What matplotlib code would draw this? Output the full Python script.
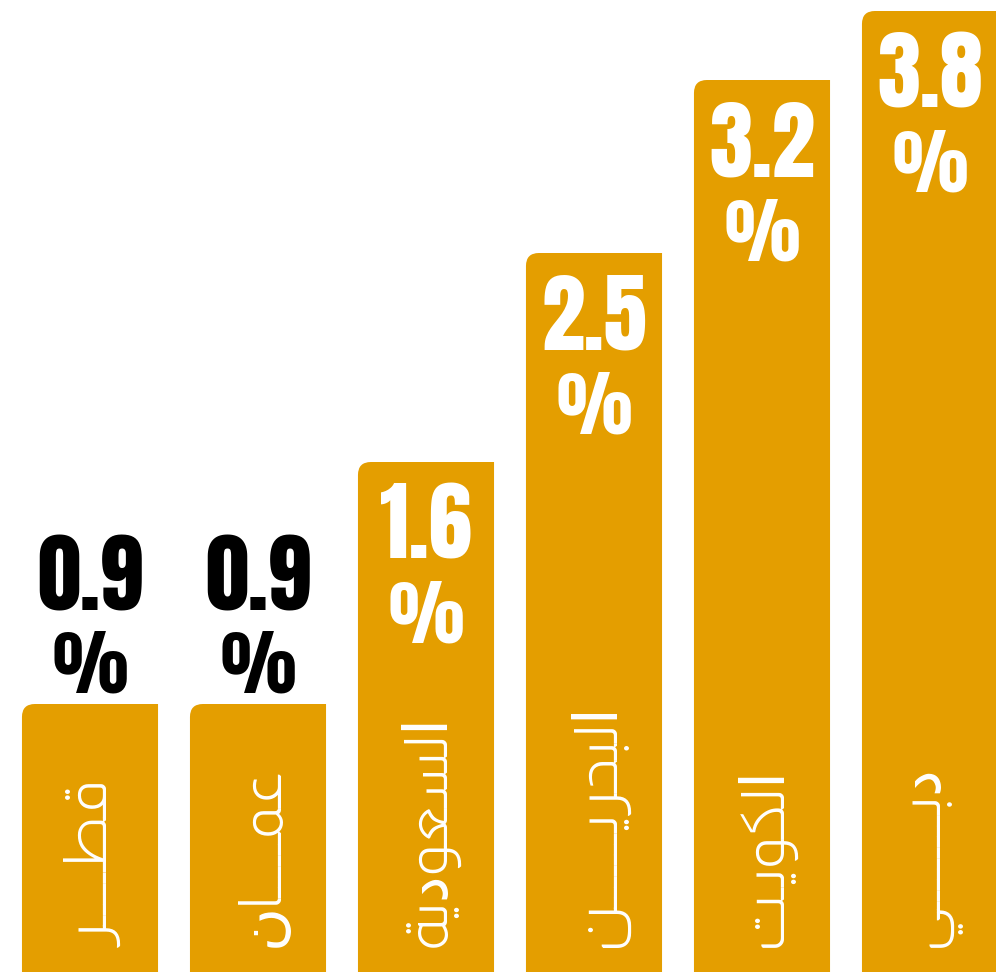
import matplotlib
matplotlib.use("Agg")
import matplotlib.pyplot as plt
from matplotlib.path import Path
from matplotlib.patches import PathPatch
from matplotlib.textpath import TextPath
from matplotlib.font_manager import FontProperties

# ---- data ----
countries = ["قطـــــر", "عمـــــان", "السعودية", "البحريـــــــن", "الكويـت", "دبـــــــــي"]
values = [0.9, 0.9, 1.6, 2.5, 3.2, 3.8]
value_labels = ["0.9", "0.9", "1.6", "2.5", "3.2", "3.8"]
# drawn bar lengths (arbitrary units)
bar_lengths = [2.68, 2.68, 5.10, 7.19, 8.92, 9.61]
label_inside = [False, False, True, True, True, True]

BAR_COLOR = "#E49E00"

# ---- minimal Arabic contextual shaping (presentation forms) ----
FORMS = {
    'ا': (0xFE8D, 0xFE8E, None, None),
    'ب': (0xFE8F, 0xFE90, 0xFE91, 0xFE92),
    'ة': (0xFE93, 0xFE94, None, None),
    'ت': (0xFE95, 0xFE96, 0xFE97, 0xFE98),
    'ح': (0xFEA1, 0xFEA2, 0xFEA3, 0xFEA4),
    'د': (0xFEA9, 0xFEAA, None, None),
    'ر': (0xFEAD, 0xFEAE, None, None),
    'س': (0xFEB1, 0xFEB2, 0xFEB3, 0xFEB4),
    'ط': (0xFEC1, 0xFEC2, 0xFEC3, 0xFEC4),
    'ع': (0xFEC9, 0xFECA, 0xFECB, 0xFECC),
    'ق': (0xFED5, 0xFED6, 0xFED7, 0xFED8),
    'ك': (0xFED9, 0xFEDA, 0xFEDB, 0xFEDC),
    'ل': (0xFEDD, 0xFEDE, 0xFEDF, 0xFEE0),
    'م': (0xFEE1, 0xFEE2, 0xFEE3, 0xFEE4),
    'ن': (0xFEE5, 0xFEE6, 0xFEE7, 0xFEE8),
    'و': (0xFEED, 0xFEEE, None, None),
    'ي': (0xFEF1, 0xFEF2, 0xFEF3, 0xFEF4),
}
TATWEEL = 'ـ'


def joins_next(ch):
    return ch == TATWEEL or (ch in FORMS and FORMS[ch][2] is not None)


def shape(word):
    out = []
    n = len(word)
    for i, ch in enumerate(word):
        if ch not in FORMS:
            out.append(ch)
            continue
        prev = i > 0 and joins_next(word[i - 1])
        nxt = (i < n - 1 and FORMS[ch][2] is not None
               and (word[i + 1] in FORMS or word[i + 1] == TATWEEL))
        f = FORMS[ch]
        if prev and nxt:
            c = f[3]
        elif prev:
            c = f[1]
        elif nxt:
            c = f[2]
        else:
            c = f[0]
        out.append(chr(c))
    return ''.join(reversed(out))


W, H, DPI = 996, 972, 100

NUM_FAMILY = ["Anton", "Oswald", "DejaVu Sans"]
ARA_FAMILY = ["Almarai", "DejaVu Sans"]
num_fp = FontProperties(family=NUM_FAMILY, weight="bold")
ara_fp = FontProperties(family=ARA_FAMILY, weight=300)


def ink(s, fp):
    return TextPath((0, 0), s, size=1, prop=fp).get_extents()


# choose font sizes so that glyph ink matches the reference in pixels
num_size = 76 * 72 / DPI / ink("0.9", num_fp).height
pct_size = 62 * 72 / DPI / ink("%", num_fp).height
ara_size = 224 * 72 / DPI / ink(shape("السعودية"), ara_fp).width

fig = plt.figure(figsize=(W / DPI, H / DPI), dpi=DPI)
fig.patch.set_facecolor("white")
ax = fig.add_axes([0, 0, 1, 1])
ax.set_axis_off()

x = list(range(len(countries)))
bars = ax.bar(x, bar_lengths, width=0.81, color=BAR_COLOR)
ax.set_xlim(-90 / 168, (W - 90) / 168)
ax.set_ylim(0, H / 100)

# replace rectangles with shapes that have a rounded top-left corner
rx, ry = 13 / 168, 13 / 100
for rect in bars:
    x0 = rect.get_x()
    x1 = x0 + rect.get_width()
    top = rect.get_height()
    verts = [(x0, 0), (x0, top - ry), (x0, top), (x0 + rx, top),
             (x1, top), (x1, 0), (x0, 0)]
    codes = [Path.MOVETO, Path.LINETO, Path.CURVE3, Path.CURVE3,
             Path.LINETO, Path.LINETO, Path.CLOSEPOLY]
    ax.add_patch(PathPatch(Path(verts, codes), facecolor=BAR_COLOR,
                           edgecolor="none", zorder=2))
    rect.set_visible(False)

for xi, h, lab, inside, name in zip(x, bar_lengths, value_labels,
                                    label_inside, countries):
    col = "white" if inside else "black"
    if inside:
        off_num, off_pct = -96, -180
    else:
        off_num, off_pct = 94, 12
    ax.annotate(lab, xy=(xi, h), xytext=(0, off_num),
                textcoords="offset pixels", ha="center", va="baseline",
                fontsize=num_size, color=col, zorder=3,
                fontproperties=num_fp)
    ax.annotate("%", xy=(xi, h), xytext=(0, off_pct),
                textcoords="offset pixels", ha="center", va="baseline",
                fontsize=pct_size, color=col, zorder=3,
                fontproperties=num_fp)
    ax.annotate(shape(name), xy=(xi, 0), xytext=(3, 25),
                textcoords="offset pixels", ha="center", va="bottom",
                rotation=90, fontsize=ara_size, color="white", zorder=3,
                fontproperties=ara_fp)

fig.savefig("out.png", dpi=DPI, facecolor="white")
